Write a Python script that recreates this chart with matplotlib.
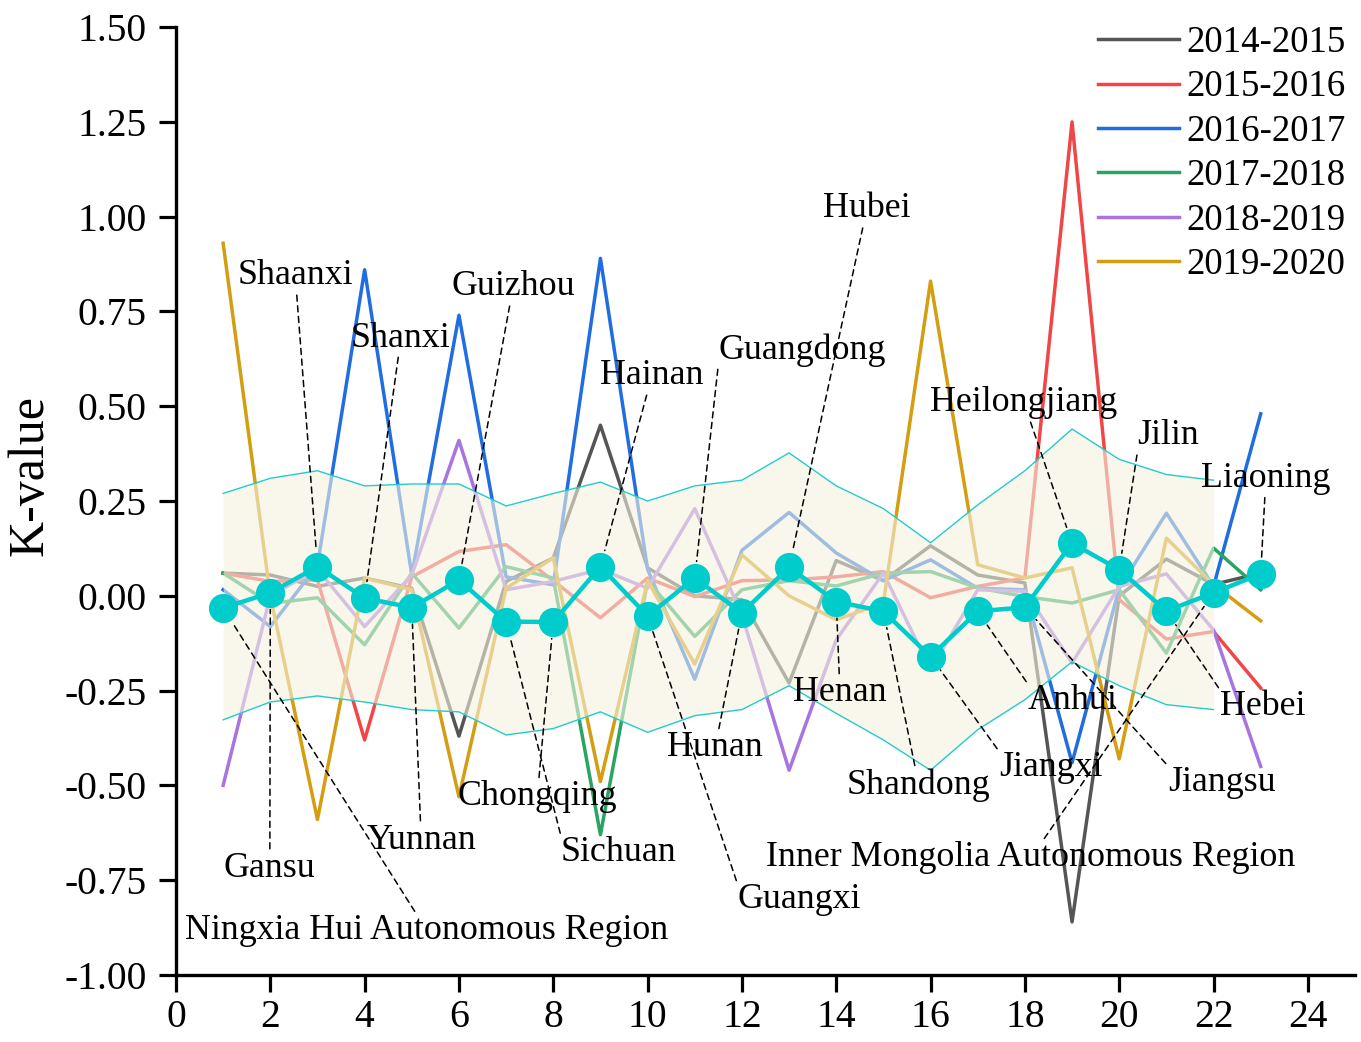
import numpy as np
import matplotlib
matplotlib.use("Agg")
import matplotlib.pyplot as plt

plt.rcParams['font.family'] = ['Liberation Serif', 'DejaVu Serif']

# region index 1..23
regions = np.arange(1, 24)

k_1415 = [0.06, 0.055, 0.025, 0.047, 0.02, -0.37, 0.038, 0.10, 0.45, 0.074, 0.0, -0.01,
          -0.23, 0.093, 0.04, 0.132, 0.055, 0.034, -0.86, 0.0, 0.097, 0.03, 0.06]
k_1516 = [0.06, 0.038, 0.042, -0.38, 0.05, 0.117, 0.135, 0.04, -0.058, 0.047, -0.002, 0.04,
          0.042, 0.05, 0.064, -0.005, 0.025, 0.047, 1.25, -0.01, -0.114, -0.094, -0.243]
k_1617 = [0.016, -0.081, 0.08, 0.86, 0.055, 0.74, 0.05, 0.029, 0.89, 0.07, -0.22, 0.12,
          0.22, 0.113, 0.04, 0.095, 0.02, 0.016, -0.44, 0.02, 0.218, 0.025, 0.48]
k_1718 = [0.06, -0.02, -0.005, -0.129, 0.06, -0.085, 0.077, 0.047, -0.63, 0.04, -0.107, 0.016,
          0.04, 0.026, 0.06, 0.064, 0.021, -0.002, -0.019, 0.016, -0.151, 0.126, 0.016]
k_1819 = [-0.50, 0.0, 0.07, -0.081, 0.055, 0.41, 0.016, 0.038, 0.07, 0.02, 0.23, -0.05,
          -0.46, -0.116, 0.06, -0.195, 0.016, 0.012, -0.177, 0.025, 0.058, -0.09, -0.45]
k_1920 = [0.93, 0.0, -0.59, 0.047, 0.016, -0.53, 0.02, 0.10, -0.49, 0.04, -0.18, 0.108,
          0.0, -0.063, -0.019, 0.83, 0.082, 0.047, 0.074, -0.43, 0.152, 0.03, -0.066]

k_mean = [-0.032, 0.008, 0.077, -0.006, -0.031, 0.042, -0.068, -0.069, 0.077, -0.053, 0.047, -0.045,
          0.075, -0.015, -0.041, -0.16, -0.041, -0.03, 0.139, 0.069, -0.04, 0.008, 0.058]

# band drawn for regions 1..22
band_upper = [0.27, 0.31, 0.33, 0.29, 0.295, 0.295, 0.237, 0.27, 0.30, 0.25, 0.29, 0.305,
              0.377, 0.29, 0.23, 0.14, 0.24, 0.33, 0.44, 0.36, 0.32, 0.305]
band_lower = [-0.327, -0.28, -0.264, -0.28, -0.30, -0.306, -0.367, -0.35, -0.306, -0.36, -0.316, -0.30,
              -0.237, -0.31, -0.38, -0.46, -0.353, -0.274, -0.174, -0.237, -0.287, -0.30]

series_labels = ['2014-2015', '2015-2016', '2016-2017', '2017-2018', '2018-2019', '2019-2020']
series_colors = ['#555555', '#f04646', '#1f6de0', '#2aa462', '#a874e0', '#d39e12']

province_names = ['Ningxia Hui Autonomous Region', 'Gansu', 'Shaanxi', 'Shanxi', 'Yunnan', 'Guizhou',
                  'Sichuan', 'Chongqing', 'Hainan', 'Guangxi', 'Guangdong', 'Hunan', 'Hubei', 'Henan',
                  'Shandong', 'Jiangxi', 'Anhui', 'Jiangsu', 'Heilongjiang', 'Jilin', 'Hebei',
                  'Inner Mongolia Autonomous Region', 'Liaoning']

# text placement for each label (data coords) and where the leader leaves the text
label_pos = [(5.32, -0.883), (1.99, -0.718), (2.53, 0.844), (4.77, 0.680), (5.20, -0.644),
             (7.15, 0.815), (9.39, -0.677), (7.66, -0.530), (10.09, 0.580), (13.21, -0.802),
             (13.27, 0.649), (11.43, -0.401), (14.65, 1.021), (14.08, -0.256), (15.75, -0.499),
             (18.55, -0.454), (19.02, -0.277), (22.18, -0.493), (17.98, 0.509), (21.04, 0.422),
             (23.05, -0.293), (18.13, -0.691), (23.11, 0.310)]
label_rel = {'Sichuan': (0, 1), 'Guangxi': (0, 1), 'Guangdong': (0, 0), 'Jilin': (0, 0),
             'Jiangxi': (0, 1), 'Anhui': (0, 1), 'Jiangsu': (0, 1), 'Hebei': (0, 1)}

fig = plt.figure(figsize=(13.61, 10.42), dpi=100)
ax = fig.add_axes([0.1293, 0.0643, 0.8663, 0.9097])

all_series = [k_1415, k_1516, k_1617, k_1718, k_1819, k_1920]
for vals, lab, col in zip(all_series, series_labels, series_colors):
    ax.plot(regions, vals, color=col, lw=2.5, label=lab, zorder=2)

# shaded band over the lines
xb = regions[:22]
ax.fill_between(xb, band_lower, band_upper, color='#f5f3e0', alpha=0.6, lw=0, zorder=3)
ax.plot(xb, band_upper, color='#22cccc', lw=1.0, zorder=3)
ax.plot(xb, band_lower, color='#22cccc', lw=1.0, zorder=3)

# mean line
ax.plot(regions, k_mean, color='#00cccc', lw=3.2, marker='o', markersize=20, zorder=5)

# leader lines and labels
for i, name in enumerate(province_names):
    ax.annotate(name, xy=(regions[i], k_mean[i]), xytext=label_pos[i],
                fontsize=25.8, ha='center', va='center', zorder=6,
                arrowprops=dict(arrowstyle='-', color='black', lw=1.1, linestyle=(0, (4, 3)),
                                shrinkA=0, shrinkB=12,
                                relpos=label_rel.get(name, (0.5, 0.5))))

ax.set_xlim(0, 25)
ax.set_ylim(-1.0, 1.5)
ax.set_xticks(np.arange(0, 25, 2))
ax.set_yticks(np.arange(-1.0, 1.51, 0.25))
ax.set_yticklabels(['%.2f' % v for v in np.arange(-1.0, 1.51, 0.25)])
ax.tick_params(axis='both', direction='out', length=12, width=2.3, labelsize=28.5)
ax.tick_params(axis='y', pad=9)
ax.tick_params(axis='x', pad=5)
for s in ['top', 'right']:
    ax.spines[s].set_visible(False)
for s in ['left', 'bottom']:
    ax.spines[s].set_linewidth(2.4)
ax.set_ylabel('K-value', fontsize=36)
ax.yaxis.set_label_coords(-0.104, 0.527)

ax.legend(loc='upper right', bbox_to_anchor=(1.011, 1.025), frameon=False, fontsize=26.5,
          handlelength=2.2, handletextpad=0.2, labelspacing=0.27, borderaxespad=0.2)

fig.savefig('out.png', dpi=100)
